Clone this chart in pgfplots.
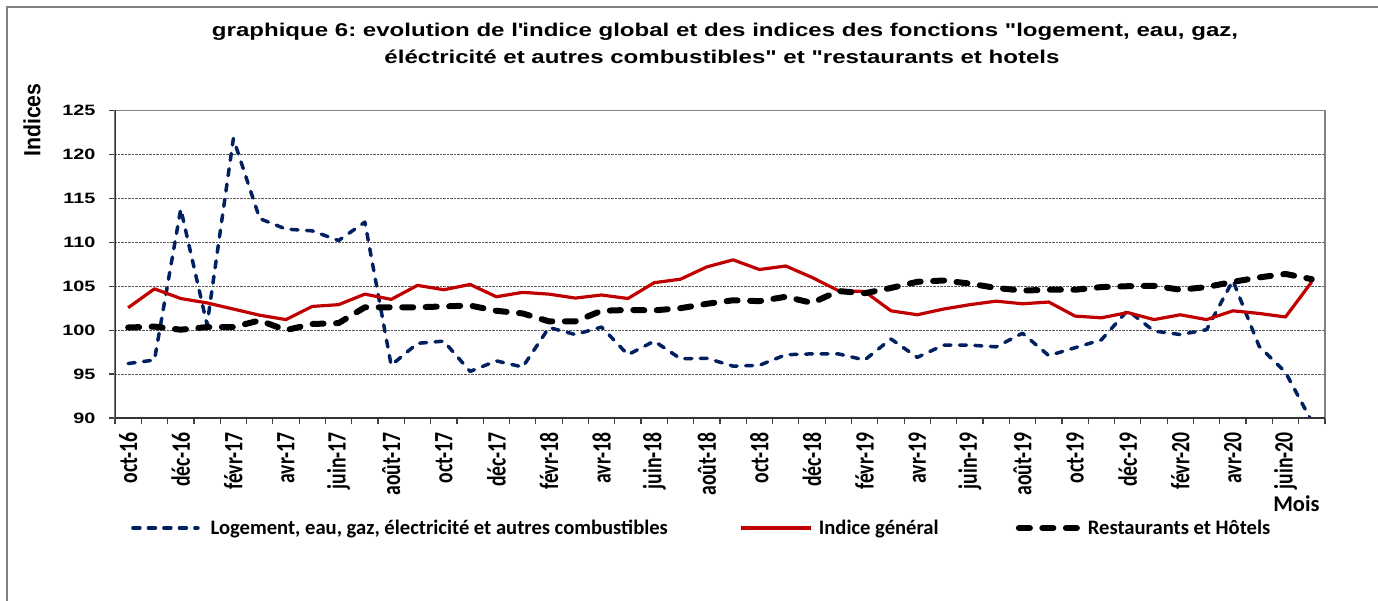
\documentclass[border=0pt]{standalone}
\usepackage{fontspec}
\usepackage{graphicx}
\usepackage{pgfplots}
\usepackage{pgfplotstable}
\pgfplotsset{compat=1.18}
\setmainfont{Liberation Sans}
\newfontfamily\titlefont[FakeStretch=1.3]{Liberation Sans}
\newfontfamily\ytickfont[FakeStretch=1.32]{Liberation Sans}
\newfontfamily\indfont[FakeStretch=1.18]{Liberation Sans}
\newfontfamily\calfont{Carlito}
\definecolor{navy}{RGB}{0,32,96}
\definecolor{dred}{RGB}{192,0,0}
\newcommand\xl[1]{\scalebox{1}[1.34]{#1}}
\pgfplotsset{leglen/.style={legend image code/.code={\draw[##1] (0pt,0pt) -- (#1,0pt);}}}

\pgfplotstableread{
i blue red black
0 96.2 102.55 100.3
1 96.6 104.7 100.4
2 113.8 103.6 100.05
3 100.6 103.1 100.35
4 121.8 102.4 100.35
5 112.7 101.7 101.1
6 111.5 101.2 100.0
7 111.3 102.7 100.7
8 110.2 102.9 100.8
9 112.3 104.1 102.6
10 96.0 103.5 102.6
11 98.5 105.1 102.6
12 98.75 104.6 102.7
13 95.3 105.2 102.8
14 96.5 103.8 102.2
15 95.8 104.3 101.9
16 100.3 104.1 101.0
17 99.5 103.65 101.0
18 100.35 104.0 102.2
19 97.2 103.6 102.3
20 98.75 105.4 102.25
21 96.75 105.8 102.5
22 96.8 107.2 103.0
23 95.9 108.0 103.4
24 96.0 106.9 103.3
25 97.2 107.3 103.8
26 97.3 106.0 103.1
27 97.3 104.5 104.45
28 96.6 104.4 104.2
29 99.0 102.2 104.8
30 96.9 101.75 105.5
31 98.3 102.4 105.65
32 98.3 102.9 105.3
33 98.1 103.3 104.8
34 99.65 103.0 104.5
35 97.1 103.2 104.6
36 98.0 101.6 104.6
37 98.9 101.4 104.9
38 102.25 102.0 105.0
39 99.9 101.2 105.05
40 99.5 101.75 104.6
41 100.05 101.2 104.9
42 105.65 102.2 105.5
43 98.15 101.9 106.0
44 95.2 101.5 106.4
45 89.6 105.5 105.8
}\data

\begin{document}
\frenchspacing
\begin{tikzpicture}
\useasboundingbox (0pt,0pt) rectangle (1378pt,-601pt);
\draw[gray, line width=2pt] (7pt,-620pt) -- (7pt,-7pt) -- (1400pt,-7pt);
\node[anchor=base, font=\titlefont\bfseries\fontsize{18.5}{18.5}\selectfont, inner sep=0pt] at (725pt,-37pt)
 {graphique 6: evolution de l\textquotesingle indice global et des indices des fonctions "logement, eau, gaz,};
\node[anchor=base, font=\titlefont\bfseries\fontsize{18.5}{18.5}\selectfont, inner sep=0pt] at (722pt,-64pt)
 {éléctricité et autres combustibles" et "restaurants et hotels};
\begin{axis}[
 at={(115pt,-418pt)}, anchor=south west,
 scale only axis, width=1210pt, height=307.5pt,
 xmin=-0.5, xmax=45.5, ymin=90, ymax=125,
 xtick={0,2,...,44},
 xticklabels={\xl{oct-16},\xl{déc-16},\xl{févr-17},\xl{avr-17},\xl{juin-17},\xl{août-17},\xl{oct-17},\xl{déc-17},\xl{févr-18},\xl{avr-18},\xl{juin-18},\xl{août-18},\xl{oct-18},\xl{déc-18},\xl{févr-19},\xl{avr-19},\xl{juin-19},\xl{août-19},\xl{oct-19},\xl{déc-19},\xl{févr-20},\xl{avr-20},\xl{juin-20}},
 minor xtick={-0.5,0.5,...,45.5},
 ytick={90,95,...,125},
 tick align=outside, xtick pos=bottom, ytick pos=left,
 major tick length=6pt, minor tick length=6pt,
 every major x tick/.append style={draw=none},
 every minor x tick/.append style={black!75, line width=1.2pt},
 every major y tick/.append style={black!75, line width=1.2pt},
 ymajorgrids, grid style={densely dotted, black!65, line width=0.8pt},
 axis line style={draw=gray, line width=1.6pt},
 xticklabel style={rotate=90, anchor=east, font=\calfont\bfseries\fontsize{19.7}{19.7}\selectfont, inner sep=0pt},
 xticklabel shift=8pt,
 yticklabel style={font=\ytickfont\bfseries\fontsize{15}{15}\selectfont, anchor=east, inner sep=0pt},
 yticklabel shift=13.5pt,
 /pgf/number format/assume math mode=true,
 xlabel={Mois},
 xlabel style={at={(axis description cs:0.9764,-0.2797)}, anchor=center, font=\calfont\bfseries\fontsize{22.5}{22.5}\selectfont, inner sep=0pt},
 ylabel={\scalebox{1}[1.3]{Indices}},
 ylabel style={at={(axis description cs:-0.0686,0.969)}, anchor=center, rotate=0, font=\indfont\bfseries\fontsize{18}{18}\selectfont, inner sep=0pt},
 legend columns=3,
 legend cell align=left,
 legend style={at={(axis description cs:0.01322,-0.3577)}, anchor=west, draw=none, fill=none, inner sep=0pt,
   font=\calfont\bfseries\fontsize{20.6}{20.6}\selectfont, nodes={inner sep=0pt}, column sep=0pt},
]
\addplot[navy, line width=3.5pt, dash pattern=on 7pt off 8.5pt, line cap=round, line join=round, leglen=65pt]
  table[x=i,y=blue]{\data};
\addlegendentry{\makebox[540pt][l]{\hspace{11pt}Logement, eau, gaz, électricité et autres combustibles}}
\addplot[dred, line width=3.2pt, line join=round, leglen=70pt] table[x=i,y=red]{\data};
\addlegendentry{\makebox[203pt][l]{\hspace{6pt}Indice général}}
\addplot[black, line width=6pt, dash pattern=on 11pt off 12.5pt, line cap=round, line join=round, leglen=59pt]
  table[x=i,y=black]{\data};
\addlegendentry{\hspace{7pt}Restaurants et Hôtels}
\draw[black!80, line width=1.6pt] (rel axis cs:0,1) -- (rel axis cs:0,0) -- (rel axis cs:1,0);
\end{axis}
\end{tikzpicture}
\end{document}
